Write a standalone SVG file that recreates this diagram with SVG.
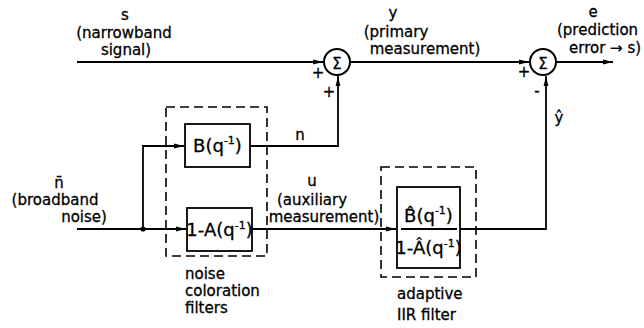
<svg xmlns="http://www.w3.org/2000/svg" width="644" height="328" viewBox="0 0 644 328">
<defs>
<style>
.t{font-family:"DejaVu Sans","Liberation Sans",sans-serif;font-size:15px;fill:#000;stroke:#000;stroke-width:0.3}
.bx{font-family:"DejaVu Sans","Liberation Sans",sans-serif;font-size:18px;fill:#000;stroke:#000;stroke-width:0.3}
.sup{font-size:11px}
.ln{fill:none;stroke:#000;stroke-width:1.8}
.box{fill:#fff;stroke:#000;stroke-width:1.8}
.dash{fill:none;stroke:#000;stroke-width:1.6;stroke-dasharray:9,5}
.sum{fill:#fff;stroke:#000;stroke-width:2}
</style>
<marker id="ah" markerWidth="11" markerHeight="6" refX="10" refY="3" orient="auto" markerUnits="userSpaceOnUse">
<path d="M0,0.6 L10,3 L0,5.4 z" fill="#000"/>
</marker>
</defs>
<rect width="644" height="328" fill="#fff"/>

<g id="connectors">
<path class="ln" d="M77,62 L323,62" marker-end="url(#ah)"/>
<path class="ln" d="M350,62 L529,62" marker-end="url(#ah)"/>
<path class="ln" d="M556,62 L613,62" marker-end="url(#ah)"/>
<path class="ln" d="M77,229 L186,229" marker-end="url(#ah)"/>
<path class="ln" d="M143,229 L143,146 L184,146" marker-end="url(#ah)"/>
<path class="ln" d="M250,146 L338,146 L338,76" marker-end="url(#ah)"/>
<path class="ln" d="M252,229 L396,229" marker-end="url(#ah)"/>
<path class="ln" d="M460,229 L546,229 L546,76" marker-end="url(#ah)"/>
<circle cx="143" cy="229" r="2.6" fill="#000"/>
</g>

<g id="sum1">
<circle class="sum" cx="337" cy="62" r="13"/>
<text class="t" x="337" y="68.5" text-anchor="middle" font-size="18">Σ</text>
<text class="t" x="318" y="78" text-anchor="middle">+</text>
<text class="t" x="329" y="97" text-anchor="middle">+</text>
</g>

<g id="sum2">
<circle class="sum" cx="543" cy="62" r="13"/>
<text class="t" x="543" y="68.5" text-anchor="middle" font-size="18">Σ</text>
<text class="t" x="524" y="77" text-anchor="middle">+</text>
<text class="t" x="537" y="96" text-anchor="middle">-</text>
</g>

<g id="signal-label">
<text class="t" x="125" y="20" text-anchor="middle">s</text>
<text class="t" x="124" y="38" text-anchor="middle">(narrowband</text>
<text class="t" x="126" y="55" text-anchor="middle">signal)</text>
</g>

<g id="y-label">
<text class="t" x="393" y="18" text-anchor="middle">y</text>
<text class="t" x="396" y="37" text-anchor="middle">(primary</text>
<text class="t" x="425" y="54" text-anchor="middle">measurement)</text>
</g>

<g id="e-label">
<text class="t" x="593" y="17" text-anchor="middle">e</text>
<text class="t" x="557" y="35">(prediction</text>
<text class="t" x="569" y="53">error → s)</text>
</g>

<g id="nbar-label">
<text class="t" x="59" y="188" text-anchor="middle">n̄</text>
<text class="t" x="55" y="205" text-anchor="middle">(broadband</text>
<text class="t" x="84" y="222" text-anchor="middle">noise)</text>
</g>

<g id="noise-filters">
<rect class="dash" x="166" y="107" width="101" height="149"/>
<text class="t" x="185" y="279">noise</text>
<text class="t" x="185" y="296">coloration</text>
<text class="t" x="185" y="313">filters</text>
</g>

<g id="B">
<rect class="box" x="185" y="124" width="65" height="43"/>
<text class="bx" x="217.5" y="152" text-anchor="middle">B(q<tspan class="sup" dy="-8">-1</tspan><tspan dy="8">)</tspan></text>
</g>
<text class="t" x="300" y="140" text-anchor="middle">n</text>

<g id="A">
<rect class="box" x="187" y="208" width="65" height="43"/>
<text class="bx" x="219.5" y="236" text-anchor="middle" font-size="15">1-A(q<tspan class="sup" dy="-7">-1</tspan><tspan dy="7">)</tspan></text>
</g>

<g id="u-label">
<text class="t" x="312" y="186" text-anchor="middle">u</text>
<text class="t" x="312" y="205" text-anchor="middle">(auxiliary</text>
<text class="t" x="324" y="222" text-anchor="middle">measurement)</text>
</g>

<g id="iir">
<rect class="dash" x="381" y="167" width="95" height="110"/>
<rect class="box" x="397" y="187" width="63" height="81"/>
<line class="ln" x1="401" y1="229" x2="457" y2="229"/>
<text class="bx" x="428.5" y="222" text-anchor="middle" font-size="16">B̂(q<tspan class="sup" dy="-8">-1</tspan><tspan dy="8">)</tspan></text>
<text class="bx" x="428.5" y="254" text-anchor="middle" font-size="15">1-Â(q<tspan class="sup" dy="-7">-1</tspan><tspan dy="7">)</tspan></text>
<text class="t" x="397" y="299">adaptive</text>
<text class="t" x="397" y="320">IIR filter</text>
</g>

<text class="t" x="559" y="123" text-anchor="middle">ŷ</text>
</svg>
